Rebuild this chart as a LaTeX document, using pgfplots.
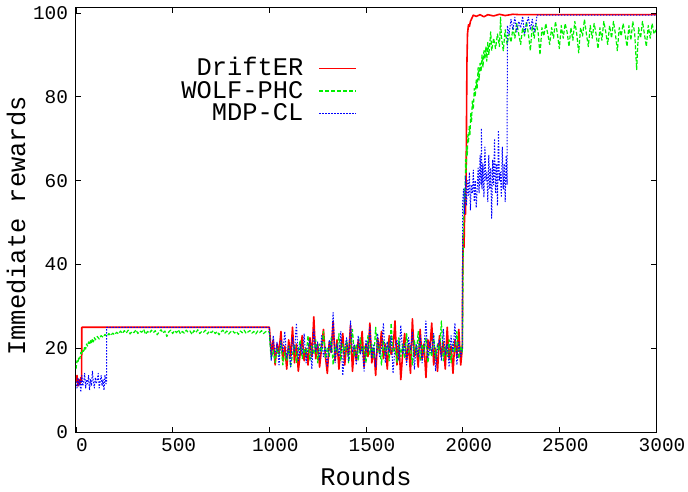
\documentclass[border=0pt]{standalone}
\usepackage{fontspec}
\setmainfont{Liberation Mono}
\usepackage{pgfplots}
\pgfplotsset{compat=1.18}
\definecolor{cred}{RGB}{255,0,0}
\definecolor{cgreen}{RGB}{0,240,0}
\definecolor{cblue}{RGB}{0,0,255}
\begin{document}
\begin{tikzpicture}
\begin{axis}[
  scale only axis, width=580bp, height=424bp,
  xmin=0, xmax=3000, ymin=0, ymax=101.2,
  xtick={0,500,...,3000}, ytick={0,20,...,100},
  /pgf/number format/assume math mode=true,
  /pgf/number format/1000 sep={},
  tick align=inside, major tick length=5bp,
  axis line style={line width=1bp},
  every tick/.style={black, line width=0.8bp},
  tick label style={font=\fontsize{19.5}{20}\selectfont},
  xticklabel style={yshift=-2.5bp, xshift=6bp},
  yticklabel style={xshift=-4.5bp},
  xlabel={Rounds}, ylabel={Immediate rewards},
  label style={font=\fontsize{25.5}{26}\selectfont},
  xlabel style={at={(axis description cs:0.5,-0.106)}, anchor=center},
  ylabel style={at={(axis description cs:-0.1034,0.486)}, anchor=center},
  legend plot pos=right,
  legend cell align=right,
  legend image code/.code={\draw[#1] (0bp,0bp) -- (37bp,0bp);},
  legend style={at={(0.4845,0.8750)}, anchor=north east, draw=none, fill=none,
    inner sep=0pt, outer sep=0pt, row sep=7.5bp,
    font=\fontsize{25.5}{26}\selectfont,
    nodes={inner sep=0pt, text height=15bp, text depth=0bp},
    /tikz/every odd column/.append style={column sep=15bp}},
]
\addplot[cred, line width=1.6bp, line join=round] coordinates {
(0,12) (5,13.5) (10,11) (15,12.5) (20,11.5) (25,13) (29,12) (30,25) (1000,25)
(1005,22) (1010,18.5) (1020,22) (1030,16) (1040,21) (1050,19) (1060,24) (1070,17) (1080,20.5) (1090,15)
(1100,22) (1110,18) (1120,25) (1130,16.5) (1140,21) (1150,14.5) (1160,19) (1170,23) (1180,17) (1190,20)
(1200,16) (1210,22.5) (1220,18) (1230,27.5) (1240,17.5) (1250,21) (1260,15.5) (1270,20) (1280,24.5) (1290,18)
(1300,14) (1310,21.5) (1320,19) (1330,26.5) (1340,17) (1350,22) (1360,15) (1370,20) (1380,23.5) (1390,16)
(1400,21) (1410,18.5) (1420,25.5) (1430,14.5) (1440,20.5) (1450,17) (1460,22) (1470,19) (1480,24) (1490,15.5)
(1500,21) (1510,18) (1520,26) (1530,16.5) (1540,20) (1550,13.5) (1560,22.5) (1570,19) (1580,24) (1590,17.5)
(1600,21) (1610,15) (1620,23) (1630,18.5) (1640,20) (1650,26.5) (1660,16) (1670,21.5) (1680,12.5) (1690,19)
(1700,23.5) (1710,17) (1720,21) (1730,14) (1740,27) (1750,18) (1760,20.5) (1770,15.5) (1780,24.5) (1790,17.5)
(1800,21) (1810,13) (1820,22) (1830,19.5) (1840,26) (1850,16) (1860,20) (1870,14.5) (1880,23) (1890,18)
(1900,21.5) (1910,15) (1920,25) (1930,17.5) (1940,20.5) (1950,14) (1960,22) (1970,18) (1980,24.5) (1990,16)
(1998,20) (2000,37) (2003,47) (2007,44) (2011,55) (2015,52) (2018,62) (2020,75) (2022,88) (2025,95)
(2030,97.2) (2035,96.8) (2040,98) (2045,98.5) (2050,99) (2055,99.5) (2070,99.2) (2090,99.6) (2110,99.1)
(2130,99.6) (2160,99.3) (2190,99.7) (2220,99.4) (2260,99.7) (2300,99.6) (3000,99.6)
};
\addlegendentry{DriftER}
\addplot[cgreen, line width=1.2bp, line join=round, dash pattern=on 4bp off 2bp] coordinates {
(0,15) (5,17) (10,16.5) (15,18) (20,17.5) (25,19) (30,18.5) (35,19.5) (40,19) (45,20.5) (50,19.8)
(55,21) (60,20.5) (65,21.5) (70,20.8) (75,21.8) (80,21.2) (85,22.3) (90,21.5) (95,22.5) (100,22)
(110,22.8) (120,22.2) (130,23) (140,22.6) (150,23.3) (160,22.8) (170,23.5) (180,23) (190,23.6) (200,23.2)
(210,23.8) (220,23.4) (230,24.1) (240,23.5) (250,24.2) (260,23.6) (270,24.3) (280,23.4) (290,24) (300,23.7)
(310,24.4) (320,23.5) (330,24.1) (340,23.8) (350,24.5) (360,23.3) (370,24) (380,23.6) (390,24.3) (400,23.7)
(410,24.2) (420,23.2) (430,23.9) (440,24.4) (450,23.6) (460,24.1) (470,22.8) (480,23.9) (490,24.3) (500,23.5)
(510,24.2) (520,23.7) (530,24.4) (540,23.4) (550,24) (560,23.6) (570,24.3) (580,23.8) (590,24.1) (600,23.3)
(610,24.2) (620,23.7) (630,24.4) (640,23.5) (650,24) (660,23.8) (670,24.3) (680,23.4) (690,24.1) (700,23.7)
(710,24.2) (720,23.5) (730,24) (740,23.2) (750,23.9) (760,24.3) (770,23.6) (780,24.1) (790,23.4) (800,23.9)
(810,24.2) (820,23.6) (830,24) (840,23.3) (850,24.1) (860,23.7) (870,24.3) (880,23.5) (890,23.9) (900,24.2)
(910,23.6) (920,24) (930,23.4) (940,24.1) (950,23.7) (960,24.2) (970,23.5) (980,23.9) (990,24.1) (1000,23.8)
(1005,20) (1010,17.5) (1020,19.5) (1030,16.5) (1040,20) (1050,18) (1060,21.5) (1070,16) (1080,19) (1090,17)
(1100,20.5) (1110,15.5) (1120,18.5) (1130,21) (1140,16.5) (1150,19.5) (1160,22) (1170,17.5) (1180,20) (1190,18)
(1200,23) (1210,17) (1220,20.5) (1230,18.5) (1240,22) (1250,16.5) (1260,21) (1270,19) (1280,24) (1290,17.5)
(1300,20) (1310,18) (1320,22.5) (1330,16) (1340,20.5) (1350,19) (1360,23.5) (1370,17) (1380,21) (1390,18.5)
(1400,22) (1410,16.5) (1420,20) (1430,24.5) (1440,18) (1450,21) (1460,17) (1470,22.5) (1480,19) (1490,20.5)
(1500,16.5) (1510,23) (1520,18.5) (1530,21) (1540,17.5) (1550,25) (1560,19) (1570,20.5) (1580,16) (1590,22)
(1600,18.5) (1610,21.5) (1620,17) (1630,26) (1640,19) (1650,20) (1660,16.5) (1670,22.5) (1680,18) (1690,21)
(1700,17.5) (1710,23.5) (1720,19) (1730,20.5) (1740,16) (1750,22) (1760,18.5) (1770,24) (1780,17) (1790,21)
(1800,19) (1810,22.5) (1820,16.5) (1830,20) (1840,18) (1850,23) (1860,17.5) (1870,21) (1880,19.5) (1890,26.5)
(1900,17) (1910,20.5) (1920,18) (1930,22) (1940,16.5) (1950,21) (1960,19) (1970,24) (1980,17.5) (1990,20.5)
(1998,19) (2000,25) (2003,45) (2006,52) (2009,58) (2012,55) (2015,65) (2018,62) (2021,68) (2024,66)
(2027,71) (2030,69) (2034,73) (2038,71) (2042,76) (2046,74) (2050,79) (2055,77) (2060,82) (2065,80)
(2070,84) (2075,82) (2080,87) (2085,84) (2090,88) (2095,86) (2100,90) (2105,87) (2110,91) (2115,89)
(2120,92) (2125,88.5) (2130,93) (2135,90) (2140,92.5) (2145,95.5) (2150,91) (2160,94) (2170,91.5) (2180,95)
(2190,92) (2196,99) (2200,94.5) (2210,91) (2220,96) (2230,92.5) (2240,95) (2250,93)
(2260,96.5) (2270,94) (2280,97.5) (2290,95) (2300,92.5) (2310,96.5) (2320,94.5) (2330,98) (2340,95) (2350,91)
(2360,97) (2370,94) (2380,97.5) (2390,95.5) (2400,90) (2410,96.5) (2420,94.5) (2430,97.5) (2440,95) (2450,92.5)
(2460,96.5) (2470,94) (2480,98) (2490,95) (2500,91.5) (2510,97) (2520,94) (2530,97.5) (2540,95.5) (2550,92)
(2560,96.5) (2570,93.5) (2580,98) (2590,95) (2600,90.5) (2610,96.5) (2620,94.5) (2630,98.5) (2640,95) (2650,92)
(2660,97) (2670,94) (2680,97.5) (2690,95) (2700,91.5) (2710,96.5) (2720,93.5) (2730,98) (2740,95.5) (2750,92.5)
(2760,97) (2770,94) (2780,98) (2790,95) (2800,91) (2810,96.5) (2820,94.5) (2830,97.5) (2840,95) (2850,92)
(2860,97) (2870,93.5) (2880,98) (2890,95) (2900,86.5) (2910,96.5) (2920,94) (2930,98) (2940,95) (2950,92)
(2960,97) (2970,94) (2980,97.5) (2990,95) (3000,96)
};
\addlegendentry{WOLF-PHC}
\addplot[cblue, line width=1bp, line join=round, dash pattern=on 1.5bp off 1.5bp] coordinates {
(0,12) (5,10.5) (10,13) (15,11) (20,12.5) (25,9.5) (30,13.5) (35,11) (40,12) (45,14) (50,10.5)
(55,12.5) (60,11.5) (65,13.5) (70,10) (75,12.5) (80,11) (85,14.5) (90,12) (95,10.5) (100,13)
(105,11.5) (110,12.5) (115,14) (120,10.5) (125,12) (130,13.5) (135,11) (140,12.5) (145,10) (150,13.5)
(155,11.5) (158,12) (159,25) (1000,25)
(1005,21) (1010,17) (1020,23) (1030,18.5) (1040,21.5) (1050,16) (1060,22) (1070,19) (1080,24) (1090,17.5)
(1100,20.5) (1110,15.5) (1120,22.5) (1130,19) (1140,26) (1150,17) (1160,21) (1170,18.5) (1180,23.5) (1190,16.5)
(1200,20) (1210,22) (1220,15) (1230,24.5) (1240,19) (1250,21.5) (1260,17) (1270,23) (1280,18) (1290,20.5)
(1300,15.5) (1310,22) (1320,19) (1330,28.5) (1340,16.5) (1350,21) (1360,18) (1370,24) (1380,13.5) (1390,20)
(1400,22.5) (1410,17) (1420,26.5) (1430,19) (1440,21) (1450,16) (1460,23) (1470,18.5) (1480,20.5) (1490,14.5)
(1500,22) (1510,19) (1520,25) (1530,17.5) (1540,21) (1550,15.5) (1560,23.5) (1570,18) (1580,20) (1590,26)
(1600,16.5) (1610,21.5) (1620,19) (1630,23) (1640,14) (1650,20.5) (1660,22) (1670,17) (1680,25.5) (1690,18.5)
(1700,21) (1710,16) (1720,22.5) (1730,19.5) (1740,24) (1750,15) (1760,21) (1770,18) (1780,23) (1790,16.5)
(1800,20) (1810,26.5) (1820,17.5) (1830,21.5) (1840,19) (1850,23.5) (1860,14.5) (1870,20.5) (1880,22) (1890,17)
(1900,24.5) (1910,18.5) (1920,21) (1930,15.5) (1940,23) (1950,19) (1960,26) (1970,16) (1980,21.5) (1990,18)
(1998,20) (2000,55) (2005,58) (2010,52) (2015,61) (2020,54) (2025,60) (2030,56.5) (2035,62) (2040,53)
(2045,59) (2050,57) (2055,62.5) (2060,55) (2065,60) (2070,53.5) (2075,58) (2080,63) (2085,57) (2090,66)
(2095,59) (2097,72.5) (2100,58) (2105,64) (2110,56) (2115,68) (2120,60) (2125,62) (2130,55) (2135,66)
(2140,58) (2145,63) (2150,51) (2155,65) (2160,59) (2165,70) (2170,57) (2175,64) (2180,54) (2185,72)
(2190,60) (2195,62) (2200,56) (2205,68) (2210,58) (2215,64) (2220,55) (2225,66) (2230,59)
(2231,97) (2240,95) (2250,98.5) (2260,96) (2270,99) (2280,95.5) (2290,98) (2300,96.5) (2310,99.2)
(2320,95) (2330,97.5) (2340,99) (2350,96) (2360,98.5) (2370,95.5) (2380,98) (2385,99.5) (3000,99.5)
};
\addlegendentry{MDP-CL}
\end{axis}
\pgfresetboundingbox
\path (-76bp,-60bp) rectangle (612bp,432bp);
\end{tikzpicture}
\end{document}
